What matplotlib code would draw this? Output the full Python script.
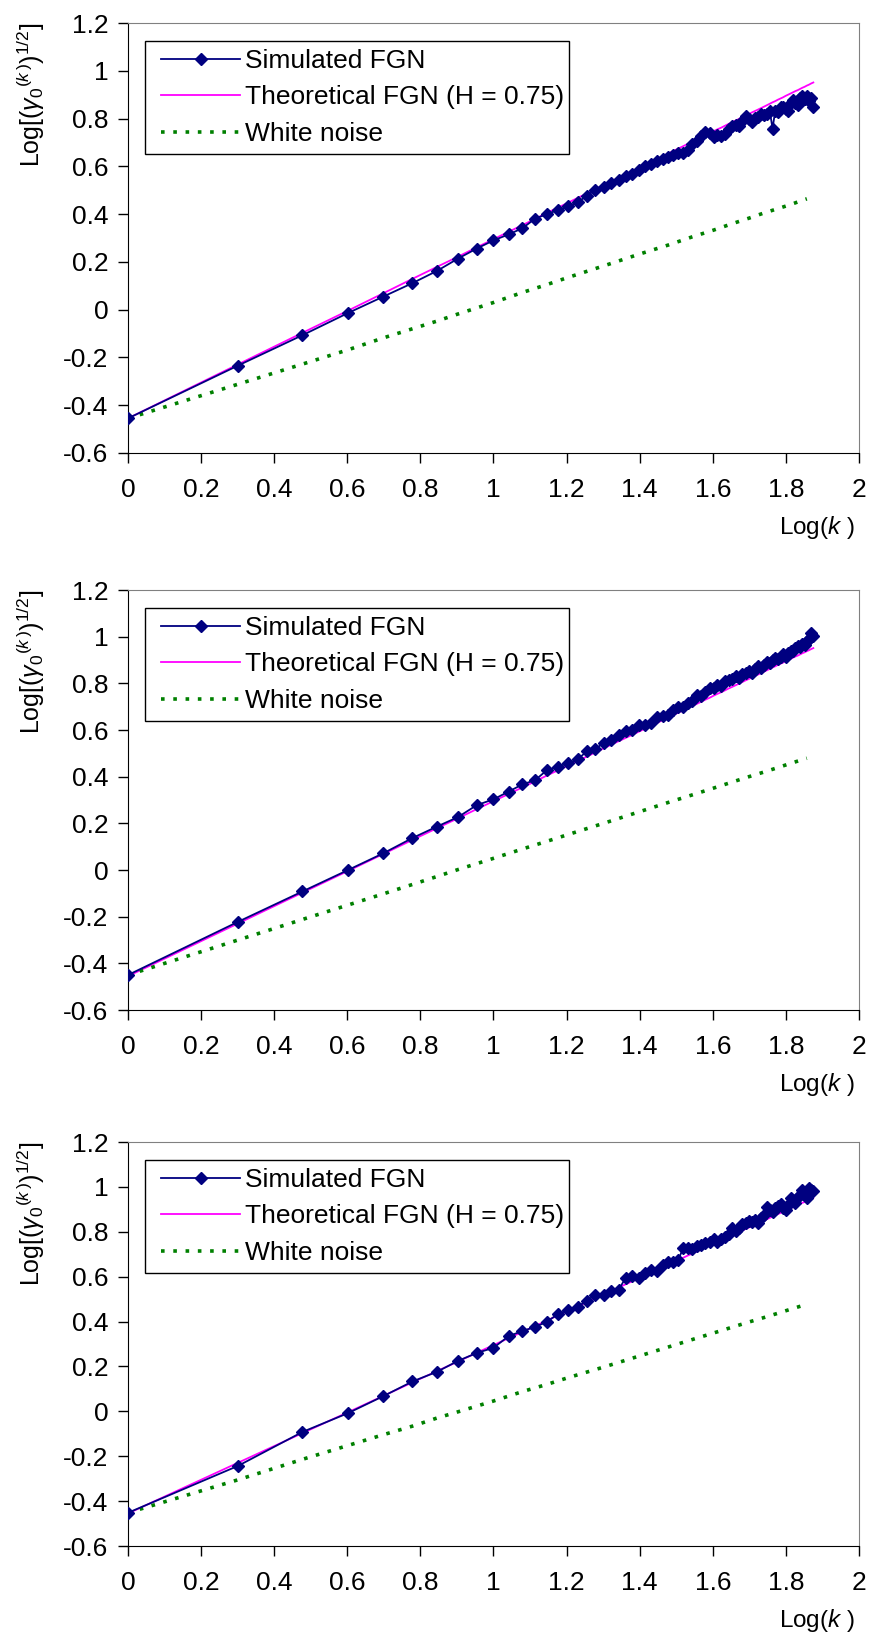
import numpy as np
import matplotlib
matplotlib.use("Agg")
import matplotlib.pyplot as plt
from matplotlib.ticker import FixedLocator, FixedFormatter
from matplotlib.patches import Rectangle

plt.rcParams['font.family'] = ['Liberation Sans', 'DejaVu Sans']
plt.rcParams['mathtext.fontset'] = 'custom'
plt.rcParams['mathtext.rm'] = 'Liberation Sans'
plt.rcParams['mathtext.it'] = 'Liberation Sans:italic'
plt.rcParams['axes.unicode_minus'] = False

# aggregation level k = 1..75, plotted as log10(k)
K = list(range(1, 76))

# theoretical FGN (H = 0.75)
THEO = [-0.455, -0.229, -0.097, -0.004, 0.069, 0.129, 0.179, 0.222, 0.261, 0.295,
        0.326, 0.354, 0.380, 0.405, 0.427, 0.448, 0.468, 0.486, 0.504, 0.521,
        0.537, 0.552, 0.566, 0.580, 0.593, 0.606, 0.619, 0.630, 0.642, 0.653,
        0.664, 0.674, 0.684, 0.694, 0.703, 0.712, 0.721, 0.730, 0.738, 0.747,
        0.755, 0.762, 0.770, 0.778, 0.785, 0.792, 0.799, 0.806, 0.813, 0.819,
        0.826, 0.832, 0.838, 0.844, 0.850, 0.856, 0.862, 0.868, 0.873, 0.879,
        0.884, 0.889, 0.895, 0.900, 0.905, 0.910, 0.915, 0.919, 0.924, 0.929,
        0.933, 0.938, 0.942, 0.947, 0.951]

# simulated FGN, one series per panel
SIM1 = [-0.455, -0.234, -0.107, -0.014, 0.055, 0.111, 0.162, 0.214, 0.256, 0.290,
        0.315, 0.341, 0.381, 0.400, 0.417, 0.432, 0.450, 0.476, 0.503, 0.513,
        0.532, 0.542, 0.561, 0.570, 0.585, 0.601, 0.609, 0.622, 0.632, 0.641,
        0.649, 0.654, 0.654, 0.669, 0.693, 0.707, 0.728, 0.745, 0.740, 0.722,
        0.730, 0.727, 0.736, 0.758, 0.770, 0.772, 0.770, 0.790, 0.812, 0.800,
        0.786, 0.804, 0.806, 0.820, 0.816, 0.818, 0.832, 0.758, 0.833, 0.829,
        0.849, 0.850, 0.840, 0.830, 0.866, 0.878, 0.866, 0.856, 0.884, 0.893,
        0.882, 0.895, 0.873, 0.886, 0.850]
SIM2 = [-0.450, -0.222, -0.092, 0.000, 0.072, 0.137, 0.186, 0.227, 0.278, 0.303,
        0.336, 0.367, 0.385, 0.428, 0.443, 0.458, 0.474, 0.509, 0.517, 0.546,
        0.557, 0.577, 0.596, 0.601, 0.623, 0.621, 0.629, 0.655, 0.662, 0.663,
        0.684, 0.699, 0.699, 0.714, 0.723, 0.752, 0.746, 0.765, 0.778, 0.782,
        0.795, 0.787, 0.810, 0.813, 0.820, 0.832, 0.824, 0.841, 0.843, 0.854,
        0.846, 0.862, 0.873, 0.864, 0.880, 0.891, 0.887, 0.898, 0.908, 0.904,
        0.914, 0.924, 0.915, 0.930, 0.940, 0.940, 0.950, 0.959, 0.954, 0.969,
        0.963, 0.983, 0.992, 1.017, 1.001]
SIM3 = [-0.452, -0.243, -0.092, -0.008, 0.068, 0.133, 0.176, 0.225, 0.260, 0.283,
        0.335, 0.358, 0.376, 0.399, 0.433, 0.452, 0.467, 0.492, 0.520, 0.520,
        0.534, 0.541, 0.596, 0.603, 0.592, 0.617, 0.631, 0.624, 0.652, 0.666,
        0.666, 0.673, 0.726, 0.726, 0.722, 0.735, 0.742, 0.749, 0.756, 0.767,
        0.756, 0.770, 0.777, 0.790, 0.819, 0.805, 0.816, 0.833, 0.838, 0.847,
        0.842, 0.854, 0.840, 0.862, 0.874, 0.909, 0.896, 0.889, 0.905, 0.915,
        0.923, 0.905, 0.895, 0.920, 0.951, 0.937, 0.930, 0.955, 0.962, 0.986,
        0.965, 0.951, 0.993, 0.985, 0.980]

# white noise reference
K_WN = [1, 2, 3, 4, 5, 6, 7, 8, 10, 12, 14, 16, 20, 25, 30, 35, 40, 45, 50, 55, 60, 65, 70, 72]
WN1 = [-0.455, -0.312, -0.228, -0.168, -0.118, -0.080, -0.048, -0.018, 0.030, 0.072, 0.105, 0.135,
       0.183, 0.232, 0.270, 0.305, 0.333, 0.360, 0.383, 0.405, 0.423, 0.440, 0.458, 0.464]
WN2 = [-0.450, -0.300, -0.212, -0.150, -0.102, -0.062, -0.028, 0.002, 0.050, 0.090, 0.123, 0.152,
       0.200, 0.249, 0.289, 0.322, 0.351, 0.377, 0.400, 0.420, 0.439, 0.457, 0.473, 0.479]
WN3 = [-0.452, -0.305, -0.214, -0.152, -0.104, -0.066, -0.030, -0.002, 0.046, 0.088, 0.120, 0.150,
       0.197, 0.246, 0.286, 0.320, 0.349, 0.375, 0.398, 0.418, 0.437, 0.455, 0.471, 0.477]

xticks = [0, 0.2, 0.4, 0.6, 0.8, 1, 1.2, 1.4, 1.6, 1.8, 2]
xticklabels = ['0', '0.2', '0.4', '0.6', '0.8', '1', '1.2', '1.4', '1.6', '1.8', '2']
yticks = [-0.6, -0.4, -0.2, 0, 0.2, 0.4, 0.6, 0.8, 1, 1.2]
yticklabels = ['-0.6', '-0.4', '-0.2', '0', '0.2', '0.4', '0.6', '0.8', '1', '1.2']

W, H = 870, 1636
fig = plt.figure(figsize=(W / 100, H / 100), dpi=100)

# pixel boxes (left, top, right, bottom) of the three plot areas
boxes = [(128, 23, 859, 453), (128, 590, 859, 1010), (128, 1142, 859, 1546)]
panels = [(SIM1, WN1), (SIM2, WN2), (SIM3, WN3)]

x = np.log10(K)
xwn = np.log10(K_WN)

for (l, t, r, b), (sim, wn) in zip(boxes, panels):
    ax = fig.add_axes([l / W, 1 - b / H, (r - l) / W, (b - t) / H])
    ax.plot(x, sim, color='#000080', lw=1.3, marker='D', ms=6.5,
            markeredgecolor='#000080', markerfacecolor='#000080',
            label='Simulated FGN', zorder=3)
    ax.plot(x, THEO, color='#FF00FF', lw=1.3, label='Theoretical FGN (H = 0.75)', zorder=2)
    ax.plot(xwn, wn, color='#008000', lw=2.6, dashes=(1.0, 2.4),
            label='White noise', zorder=2)

    ax.set_xlim(0, 2)
    ax.set_ylim(-0.6, 1.2)
    ax.xaxis.set_major_locator(FixedLocator(xticks))
    ax.xaxis.set_major_formatter(FixedFormatter(xticklabels))
    ax.yaxis.set_major_locator(FixedLocator(yticks))
    ax.yaxis.set_major_formatter(FixedFormatter(yticklabels))
    ax.tick_params(direction='out', length=7, width=1, labelsize=19, color='black')
    ax.tick_params(axis='x', pad=11)
    ax.tick_params(axis='y', pad=7)
    for s in ['top', 'right']:
        ax.spines[s].set_color('#808080')
    for s in ['left', 'bottom']:
        ax.spines[s].set_color('black')

    # legend box (Excel style: handles inset from the frame)
    bl, bt, bw, bh = 145, t + 18, 424, 113
    ax.add_patch(Rectangle((bl / W, 1 - (bt + bh) / H), bw / W, bh / H,
                           transform=fig.transFigure, facecolor='white',
                           edgecolor='black', lw=1.0, clip_on=False, zorder=4))
    leg = ax.legend(loc='upper left', bbox_to_anchor=((bl + 16) / W, 1 - (bt + 8) / H),
                    bbox_transform=fig.transFigure, borderaxespad=0, borderpad=0,
                    fontsize=19, frameon=False, handlelength=3.0, handletextpad=0.2,
                    labelspacing=0.47, numpoints=1)
    leg.set_zorder(5)

    fig.text(31 / W, 1 - t / H,
             r'Log[($\gamma_0{}^{(\mathit{k}\,)}$)$^{1/2}$]',
             rotation=90, ha='center', va='top', fontsize=18)
    fig.text(855 / W, 1 - (b + 74) / H, r'Log($\mathit{k}$ )',
             ha='right', va='center', fontsize=17.5)

fig.savefig('out.png', dpi=100)
